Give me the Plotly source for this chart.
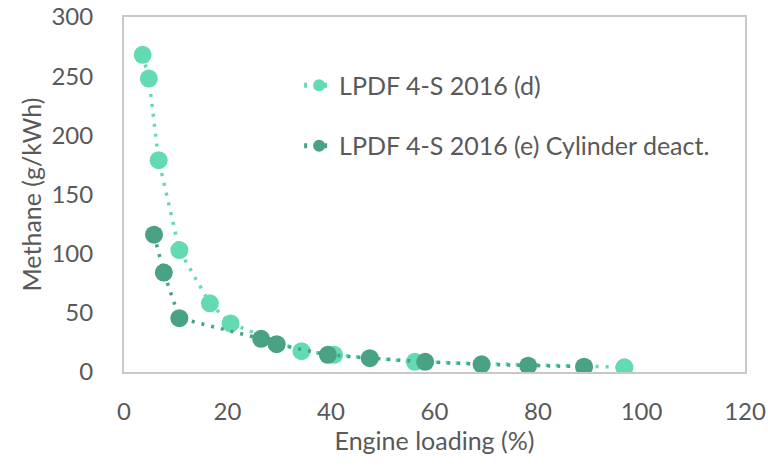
import plotly.graph_objects as go

# Series d (light)
d_load = [3.6, 4.8, 6.7, 10.7, 16.6, 20.6, 34.3, 40.6, 56.2, 96.7]
d_ch4 = [268, 248, 179, 103, 58, 41, 17.6, 14.5, 8.6, 4.0]
# Series e (dark) - cylinder deactivation
e_load = [5.8, 7.7, 10.7, 26.5, 29.5, 39.4, 47.5, 58.2, 69.1, 78.1, 88.9]
e_ch4 = [116, 84, 45.5, 28, 23.5, 14.5, 11.7, 8.6, 6.5, 5.3, 4.5]

names = ["LPDF 4-S 2016 (d)", "LPDF 4-S 2016 (e) Cylinder deact."]
light = "#63DBB1"
dark = "#48A283"
txt = "#595959"
font = "Lato, 'Open Sans', sans-serif"

fig = go.Figure()
for i, (x, y, n, c) in enumerate([(d_load, d_ch4, names[0], light), (e_load, e_ch4, names[1], dark)]):
    fig.add_trace(go.Scatter(
        x=x, y=y, name=n, mode="lines+markers", legendgroup=f"g{i}",
        line=dict(color=c, width=3.5, dash="3px,7px"),
        marker=dict(color=c, size=18, symbol="circle", line=dict(width=0)),
    ))

fig.update_layout(
    width=768, height=468,
    margin=dict(l=124, r=23, t=17, b=96),
    paper_bgcolor="white", plot_bgcolor="white",
    font=dict(family=font, color=txt, size=24),
    showlegend=True,
    legend=dict(x=0.282, y=0.872, xanchor="left", yanchor="top",
                bgcolor="rgba(0,0,0,0)", font=dict(size=25, color=txt),
                tracegroupgap=25, itemsizing="constant"),
    xaxis=dict(range=[0, 120], dtick=20, showgrid=False, zeroline=False,
               showline=True, linecolor="#C8C8C8", linewidth=2, mirror=True,
               ticks="outside", ticklen=17, tickcolor="rgba(0,0,0,0)",
               tickfont=dict(size=24, color=txt), automargin=False,
               ticklabeloverflow="allow",
               title=dict(text="Engine loading (%)", font=dict(size=25, color=txt), standoff=7)),
    yaxis=dict(range=[0, 300], dtick=50, showgrid=False, zeroline=False,
               showline=True, linecolor="#C8C8C8", linewidth=2, mirror=True,
               ticks="outside", ticklen=24, tickcolor="rgba(0,0,0,0)",
               tickfont=dict(size=24, color=txt), automargin=False,
               ticklabeloverflow="allow",
               title=dict(text="Methane (g/kWh)", font=dict(size=25, color=txt), standoff=3)),
)

fig.write_html("out.html", post_script="document.body.style.margin='0';",
               config={"displayModeBar": False})
